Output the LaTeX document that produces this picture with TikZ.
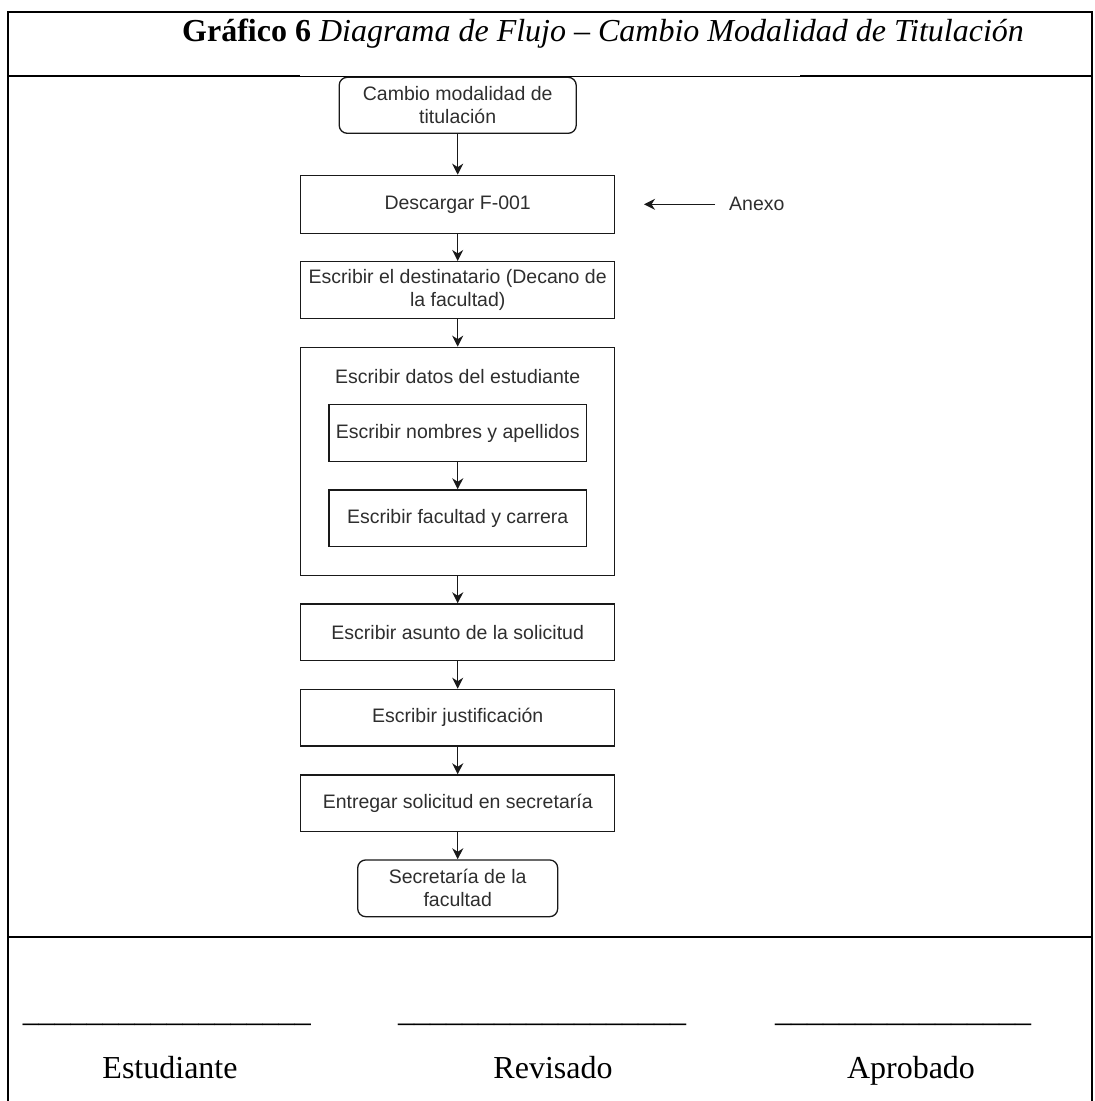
\documentclass[tikz,border=0pt]{standalone}
\usepackage{fontspec}
\setmainfont{Liberation Serif}
\newfontfamily\flowfont{Liberation Sans}
\usetikzlibrary{arrows.meta}
\begin{document}
\begin{tikzpicture}[x=1pt,y=-1pt,
  frameline/.style={line width=2.2pt, black},
  thinline/.style={line width=0.9pt, black},
  flowtext/.style={font=\flowfont\fontsize{19.5}{23.2}\selectfont, text=black!82},
  proc/.style={flowtext, draw=black!90, line width=1.3pt, minimum width=314pt, minimum height=56.7pt, inner sep=0pt, align=center},
  inner/.style={proc, minimum width=257.6pt},
  term/.style={proc, rounded corners=8pt},
  arr/.style={draw=black!90, line width=1.3pt, -{Stealth[length=11pt,width=11pt,inset=3.5pt]}},
  serif/.style={font=\fontsize{32}{38}\selectfont, inner sep=0pt, text=black}
]
\useasboundingbox (0,0) rectangle (1095,1101);
% frame
\draw[frameline] (7.7,1110) -- (7.7,12) -- (1092,12) -- (1092,1110);
\draw[frameline] (7.7,76) -- (300,76);
\draw[frameline] (800,76) -- (1092,76);
\draw[thinline] (300,76) -- (800,76);
\draw[frameline] (7.7,936.8) -- (1092,936.8);
% title
\node[serif, anchor=base west] (title) at (182,41) {\textbf{Gráfico 6} \textit{Diagrama de Flujo – Cambio Modalidad de Titulación}};
% flowchart
\node[term, minimum width=237pt, minimum height=56pt] (start) at (457.7,105.3) {Cambio modalidad de\\titulación};
\node[proc, minimum height=58pt] (desc) at (457.7,204.3) {Descargar F-001};
\node[flowtext, inner sep=0pt, anchor=west] (anexo) at (729,204.3) {Anexo};
\coordinate (anexotip) at (644,204.3);
\node[proc] (dest) at (457.7,290) {Escribir el destinatario (Decano de\\la facultad)};
\node[proc, minimum height=228.4pt] (datos) at (457.7,461.5) {};
\node[flowtext, inner sep=0pt] (datostxt) at (457.7,376.7) {Escribir datos del estudiante};
\node[inner, minimum height=57.4pt] (nombres) at (457.7,433) {Escribir nombres y apellidos};
\node[inner] (facultad) at (457.7,518.3) {Escribir facultad y carrera};
\node[proc] (asunto) at (457.7,632.3) {Escribir asunto de la solicitud};
\node[proc] (just) at (457.7,717.7) {Escribir justificación};
\node[proc] (entregar) at (457.7,803.3) {Entregar solicitud en secretaría};
\node[term, minimum width=200pt] (fin) at (457.7,888.3) {Secretaría de la\\facultad};
% connectors
\draw[arr] (start) -- (desc);
\draw[arr] (desc) -- (dest);
\draw[arr] (dest) -- (datos);
\draw[arr] (nombres) -- (facultad);
\draw[arr] (datos) -- (asunto);
\draw[arr] (asunto) -- (just);
\draw[arr] (just) -- (entregar);
\draw[arr] (entregar) -- (fin);
\draw[arr, shorten <=14pt] (anexo.west) -- (anexotip);
% signatures
\node[serif, anchor=base west] (sig1) at (22.7,1021.8) {\_\_\_\_\_\_\_\_\_\_\_\_\_\_\_\_\_\_};
\node[serif, anchor=base west] (sig2) at (398,1021.8) {\_\_\_\_\_\_\_\_\_\_\_\_\_\_\_\_\_\_};
\node[serif, anchor=base west] (sig3) at (775,1021.8) {\_\_\_\_\_\_\_\_\_\_\_\_\_\_\_\_};
\node[serif, anchor=base] (est) at (170,1078) {Estudiante};
\node[serif, anchor=base] (rev) at (553,1078) {Revisado};
\node[serif, anchor=base] (apr) at (911,1078) {Aprobado};
\end{tikzpicture}
\end{document}
